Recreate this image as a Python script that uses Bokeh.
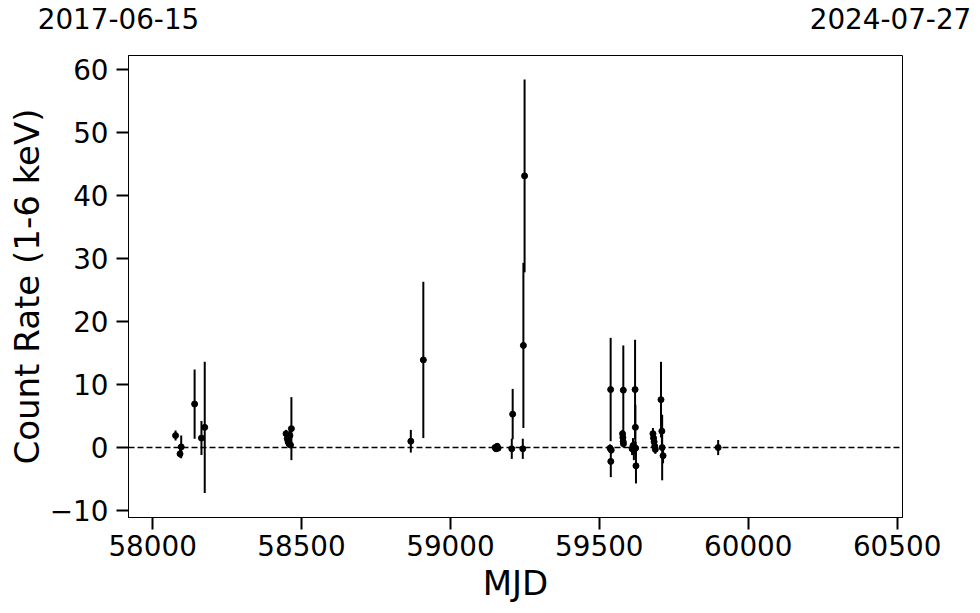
from bokeh.plotting import figure
from bokeh.models import ColumnDataSource, Range1d, FixedTicker, Span
from bokeh.layouts import column
from bokeh.core.properties import value
from bokeh.embed import file_html
from bokeh.resources import INLINE

mjd = [58077, 58092, 58096, 58141, 58164, 58175,
       58448, 58452, 58455, 58458, 58461, 58463, 58466,
       58867, 58909,
       59150, 59153, 59157, 59160,
       59206, 59209, 59243, 59245, 59249,
       59536, 59538, 59540, 59538.5,
       59578, 59579, 59580, 59581, 59580.5,
       59610, 59613, 59616, 59620, 59621, 59622, 59623,
       59680, 59682, 59684, 59686, 59688,
       59707, 59710, 59711, 59714,
       59899]
rate = [1.9, -1.0, 0.1, 6.9, 1.5, 3.2,
        2.2, 1.4, 0.9, 0.6, 1.9, 0.4, 3.0,
        1.0, 13.9,
        0.0, -0.2, 0.2, -0.1,
        -0.2, 5.3, -0.2, 16.2, 43.1,
        -0.1, 9.2, -0.4, -2.2,
        2.2, 1.6, 0.95, 0.6, 9.1,
        -0.2, 0.3, -0.5, 9.2, 3.2, -0.1, -2.9,
        2.2, 1.5, 0.9, 0.2, -0.3,
        7.6, 2.6, 0.0, -1.3,
        0.0]
err = [0.8, 0.6, 1.8, 5.5, 2.7, 10.4,
       0.6, 0.5, 0.5, 0.6, 0.8, 0.5, 5.0,
       1.8, 12.4,
       0.3, 0.3, 0.4, 0.3,
       1.6, 4.0, 1.6, 13.1, 15.3,
       0.6, 8.2, 0.6, 2.5,
       0.6, 0.6, 0.6, 0.6, 7.1,
       1.0, 1.2, 1.5, 7.9, 3.6, 1.0, 2.8,
       0.9, 0.9, 0.8, 0.8, 0.7,
       6.0, 2.0, 5.2, 1.2,
       1.2]

x_start, x_end = 57919, 60518
y_start, y_end = -11.1, 62.2
x_ticks = [58000, 58500, 59000, 59500, 60000, 60500]
y_ticks = [-10, 0, 10, 20, 30, 40, 50, 60]
date_labels = ["2017-06-15", "2024-07-27"]

lo = [r - e for r, e in zip(rate, err)]
hi = [r + e for r, e in zip(rate, err)]
src = ColumnDataSource(dict(x=mjd, y=rate, lo=lo, hi=hi))

FONT = "DejaVu Sans"
W = 978
TOP_H = 55
MAIN_H = 556

# --- header strip carrying the two date labels ---
head = figure(width=W, height=TOP_H, output_backend="svg", toolbar_location=None,
              x_range=Range1d(0, W), y_range=Range1d(0, TOP_H),
              x_axis_location=None, y_axis_location=None,
              min_border=0, min_border_left=0, min_border_right=0,
              min_border_top=0, min_border_bottom=0)
head.frame_align = False
head.grid.visible = False
head.outline_line_color = None
head.background_fill_color = "white"
head.border_fill_color = "white"
head.text(x=[118, 890], y=[37, 37], text=date_labels,
          text_align="center", text_baseline="alphabetic",
          text_font=value(FONT), text_font_size="27.8px", text_color="black")

# --- main light-curve panel ---
p = figure(width=W, height=MAIN_H, output_backend="svg", toolbar_location=None,
           x_range=Range1d(x_start, x_end), y_range=Range1d(y_start, y_end),
           min_border_left=128, min_border_right=76, min_border_top=0, min_border_bottom=94)
p.frame_align = False
p.grid.visible = False
p.outline_line_color = "black"
p.outline_line_width = 1
p.outline_line_alpha = 1
p.background_fill_color = "white"
p.border_fill_color = "white"

for ax in (p.xaxis[0], p.yaxis[0]):
    ax.major_tick_out = 12
    ax.major_tick_in = 0
    ax.major_tick_line_width = 2
    ax.major_tick_line_color = "black"
    ax.minor_tick_line_color = None
    ax.axis_line_color = "black"
    ax.axis_line_width = 1
    ax.major_label_text_font = FONT
    ax.major_label_text_font_size = "27.8px"
    ax.major_label_text_color = "black"
    ax.axis_label_text_font = FONT
    ax.axis_label_text_font_size = "34px"
    ax.axis_label_text_font_style = "normal"
    ax.axis_label_text_color = "black"

p.xaxis[0].ticker = FixedTicker(ticks=x_ticks)
p.yaxis[0].ticker = FixedTicker(ticks=y_ticks)
p.yaxis[0].major_label_overrides = {-10: "\u221210"}
p.xaxis[0].axis_label = "MJD"
p.yaxis[0].axis_label = "Count Rate (1-6 keV)"
p.xaxis[0].major_label_standoff = 5
p.yaxis[0].major_label_standoff = 8
p.xaxis[0].axis_label_standoff = 4
p.yaxis[0].axis_label_standoff = 0

p.add_layout(Span(location=0, dimension="width", line_color="black",
                  line_dash="6 3", line_width=1.5))

p.segment(x0="x", y0="lo", x1="x", y1="hi", source=src, line_color="black", line_width=2)
p.scatter(x="x", y="y", source=src, marker="circle", size=6,
          fill_color="black", line_color="black")

layout = column(head, p, spacing=0)
open("out.html", "w").write(file_html(layout, INLINE))
